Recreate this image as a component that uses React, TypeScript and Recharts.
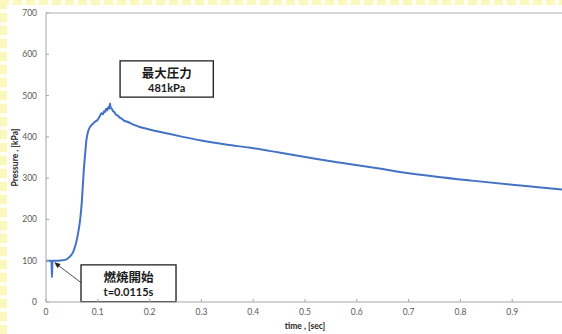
import { LineChart, Line, XAxis, YAxis, ReferenceLine, ReferenceArea } from 'recharts';

// time [sec] and pressure [kPa]
const timeSec = [
  0, 0.005, 0.0105, 0.0115, 0.0125, 0.02, 0.03, 0.037, 0.046, 0.052,
  0.056, 0.059, 0.062, 0.066, 0.069, 0.071, 0.073, 0.076, 0.078, 0.081,
  0.085, 0.09, 0.094, 0.1, 0.104, 0.107, 0.11, 0.112, 0.114, 0.116,
  0.118, 0.12, 0.122, 0.1235, 0.125, 0.127, 0.129, 0.132, 0.135, 0.138,
  0.142, 0.146, 0.15, 0.158, 0.17, 0.181, 0.2, 0.235, 0.264, 0.3,
  0.35, 0.392, 0.45, 0.52, 0.565, 0.585, 0.65, 0.694, 0.75, 0.822,
  0.9, 0.95, 1.0,
];
const pressureKPa = [
  100, 100, 100, 60, 100, 100, 101, 102, 110, 120,
  134, 148, 167, 200, 240, 280, 320, 365, 392, 412,
  424, 431, 436, 442, 450, 457, 455, 462, 460, 468,
  464, 472, 468, 481, 470, 468, 463, 460, 454, 452,
  447, 444, 440, 436, 429, 424, 418, 408, 400, 391,
  381, 374, 362, 347, 338, 334, 322, 313, 304, 294,
  284, 278, 272,
];
const xTicks = [0, 0.1, 0.2, 0.3, 0.4, 0.5, 0.6, 0.7, 0.8, 0.9];
const yTicks = [0, 100, 200, 300, 400, 500, 600, 700];

const peakText = ['最大圧力', '481kPa'];
const ignitionText = ['燃焼開始', 't=0.0115s'];

// annotation boxes / arrow in data units
const peakBox = { x1: 0.143, x2: 0.323, y1: 496, y2: 584 };
const ignitionBox = { x1: 0.0676, x2: 0.251, y1: 1, y2: 90 };
const arrowTail = { x: 0.0676, y: 47 };
const arrowHead = { x: 0.016, y: 96 };

const data = timeSec.map((t, i) => ({ t, p: pressureKPa[i] }));

const tickStyle = { fontSize: 8.5, fill: '#595959', fontFamily: 'Lato, sans-serif' };
const titleStyle = { fontSize: 8.5, fill: '#262626', fontWeight: 700, fontFamily: 'Lato, sans-serif' };

function BoxText({ viewBox, lines }: any) {
  const { x, y, width, height } = viewBox;
  const cx = x + width / 2;
  return (
    <g>
      <text x={cx} y={y + height * 0.32} textAnchor="middle" dominantBaseline="central"
        fontSize={12.5} fontWeight={700} fill="#1a1a1a" fontFamily="'Noto Sans CJK JP', sans-serif">
        {lines[0]}
      </text>
      <text x={cx} y={y + height * 0.72} textAnchor="middle" dominantBaseline="central"
        fontSize={11} fontWeight={700} fill="#1a1a1a" fontFamily="Lato, sans-serif">
        {lines[1]}
      </text>
    </g>
  );
}

function Arrow(props: any) {
  const { x1, y1, x2, y2 } = props;
  const ang = Math.atan2(y2 - y1, x2 - x1);
  const len = 6;
  const w = 2.6;
  const bx = x2 - len * Math.cos(ang);
  const by = y2 - len * Math.sin(ang);
  const px = -Math.sin(ang) * w;
  const py = Math.cos(ang) * w;
  return (
    <g>
      <line x1={x1} y1={y1} x2={bx} y2={by} stroke="#222" strokeWidth={0.8} />
      <polygon points={`${x2},${y2} ${bx + px},${by + py} ${bx - px},${by - py}`} fill="#222" />
    </g>
  );
}

export default function App() {
  return (
    <div style={{ position: 'absolute', left: 0, top: 0, width: 562, height: 334, overflow: 'hidden', background: '#fff' }}>
      <div style={{
        position: 'absolute', left: 0, top: 0, width: 562, height: 5,
        background: 'repeating-linear-gradient(90deg, #fbf8bd 0 9px, #fffef0 9px 13px)',
      }} />
      <div style={{
        position: 'absolute', left: 0, top: 0, width: 7, height: 334,
        background: 'repeating-linear-gradient(180deg, #fbf8bd 0 9px, #fffef0 9px 13px)',
      }} />
      <div style={{ position: 'absolute', left: 0, top: 0 }}>
        <LineChart width={566} height={334} data={data} margin={{ top: 13, right: 2, bottom: 0, left: 0 }}>
          <XAxis
            dataKey="t"
            type="number"
            domain={[0, 1]}
            ticks={xTicks}
            interval={0}
            height={32}
            stroke="#a6a6a6"
            tick={tickStyle}
            tickSize={-3}
            tickMargin={10}
            label={(p: any) => (
              <text x={p.viewBox.x + p.viewBox.width / 2} y={p.viewBox.y + 24} textAnchor="middle"
                dominantBaseline="central" {...titleStyle}>time , [sec]</text>
            )}
          />
          <YAxis
            type="number"
            domain={[0, 700]}
            ticks={yTicks}
            interval={0}
            width={46}
            stroke="#a6a6a6"
            tick={tickStyle}
            tickSize={-3}
            tickMargin={12}
            label={(p: any) => {
              const cx = p.viewBox.x + 15;
              const cy = p.viewBox.y + p.viewBox.height / 2;
              return (
                <text x={cx} y={cy} textAnchor="middle" dominantBaseline="central"
                  transform={`rotate(-90 ${cx} ${cy})`} {...titleStyle}>Pressure , [kPa]</text>
              );
            }}
          />
          <ReferenceLine y={700} stroke="#c8c8c8" strokeWidth={1.3} />
          <Line
            type="monotone"
            dataKey="p"
            stroke="#4472c4"
            strokeWidth={2}
            dot={false}
            isAnimationActive={false}
          />
          <ReferenceArea {...peakBox} fill="#fff" fillOpacity={1} stroke="#1a1a1a" strokeWidth={1.3}
            ifOverflow="visible" label={(p: any) => <BoxText viewBox={p.viewBox} lines={peakText} />} />
          <ReferenceArea {...ignitionBox} fill="#fff" fillOpacity={1} stroke="#1a1a1a" strokeWidth={1.3}
            ifOverflow="visible" label={(p: any) => <BoxText viewBox={p.viewBox} lines={ignitionText} />} />
          <ReferenceLine segment={[arrowTail, arrowHead]} ifOverflow="visible" shape={(p: any) => <Arrow {...p} />} />
        </LineChart>
      </div>
    </div>
  );
}
